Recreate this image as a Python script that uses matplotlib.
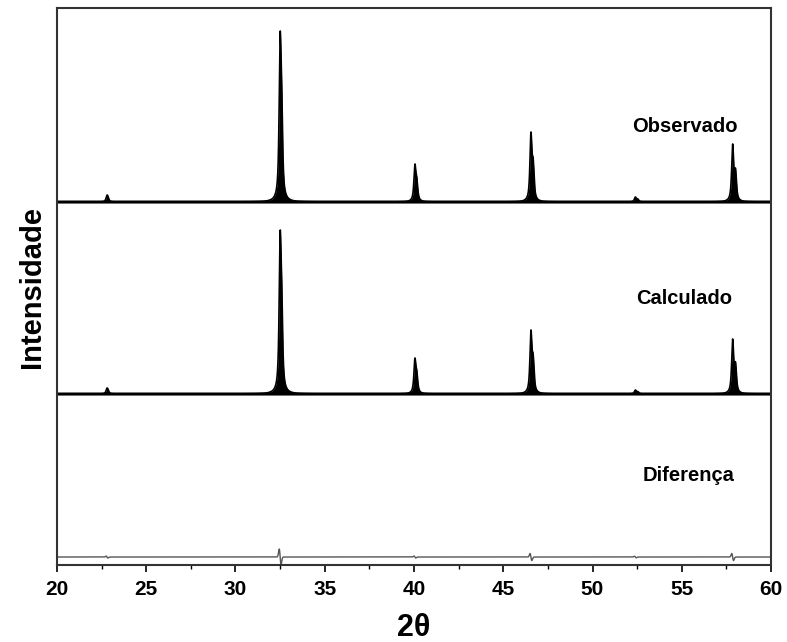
import numpy as np
import matplotlib
matplotlib.use("Agg")
import matplotlib.pyplot as plt
from matplotlib.ticker import MultipleLocator

# ---- data ----
peak_pos = [22.8, 32.5, 40.05, 46.55, 52.4, 57.85]          # 2theta (deg)
obs_heights = [7, 171, 38, 70, 5, 58]                        # peak maxima (a.u.)
calc_heights = [6, 164, 36, 64, 4, 55]
diff_amps = [1.0, 8.0, 1.0, 3.5, 0.8, 3.5]
obs_offset = 363
calc_offset = 171
diff_offset = 8
labels = ["Observado", "Calculado", "Diferença"]
xticks = [20, 25, 30, 35, 40, 45, 50, 55, 60]

x = np.linspace(20, 60, 12000)

def pv(x, c, fwhm=0.13, eta=0.8):
    g = np.exp(-4 * np.log(2) * ((x - c) / fwhm) ** 2)
    l = 1.0 / (1 + 4 * ((x - c) / fwhm) ** 2)
    return eta * l + (1 - eta) * g

def pattern(heights):
    y = np.zeros_like(x)
    for c, h in zip(peak_pos, heights):
        theta = np.radians(c / 2)
        d2 = np.degrees(2 * np.tan(theta) * 0.00251)
        prof = pv(x, c) + 0.5 * pv(x, c + d2)
        y += h * prof / prof.max()
    return y

def diff_curve(amps):
    y = np.zeros_like(x)
    for c, a in zip(peak_pos, amps):
        w = 0.07
        prof = (-(x - c) / w) * np.exp(-((x - c) / w) ** 2)
        y += a * prof / prof.max()
    return y

obs = obs_offset + pattern(obs_heights)
calc = calc_offset + pattern(calc_heights)
diff = diff_offset + diff_curve(diff_amps)

fig = plt.figure(figsize=(7.87, 6.42), dpi=100)
ax = fig.add_axes([0.0724, 0.1199, 0.9073, 0.8676])

for y, off in [(obs, obs_offset), (calc, calc_offset)]:
    ax.fill_between(x, off, y, color="black", lw=0)
    ax.plot(x, y, color="black", lw=1.2)
    ax.plot(x, np.full_like(x, off), color="black", lw=2.2)
ax.plot(x, diff, color="#555555", lw=1.0)

ax.set_xlim(20, 60)
ax.set_ylim(0, 557)
ax.set_yticks([])
ax.set_xticks(xticks)
ax.xaxis.set_minor_locator(MultipleLocator(2.5))
ax.tick_params(axis="x", which="major", direction="out", length=5, width=1.2, pad=6)
ax.tick_params(axis="x", which="minor", direction="out", length=3, width=1.0)
for lab in ax.get_xticklabels():
    lab.set_fontfamily(["Liberation Sans Narrow", "Liberation Sans", "DejaVu Sans"])
    lab.set_fontweight("bold")
    lab.set_fontsize(15)
for s in ax.spines.values():
    s.set_linewidth(1.5)
    s.set_color("#333333")

ax.set_xlabel("2θ", fontsize=22, fontweight="bold",
              family=["Liberation Sans", "DejaVu Sans"], labelpad=10)
ax.set_ylabel("Intensidade", fontsize=21, fontweight="bold",
              family=["Liberation Sans", "DejaVu Sans"], labelpad=8)

text_y = [439, 267, 90]
text_x = [55.15, 55.15, 55.4]
for t, tx, ty in zip(labels, text_x, text_y):
    ax.text(tx, ty, t, fontsize=14.5, fontweight="bold", ha="center", va="center",
            family=["Liberation Sans", "DejaVu Sans"])

fig.savefig("out.png", dpi=100)
